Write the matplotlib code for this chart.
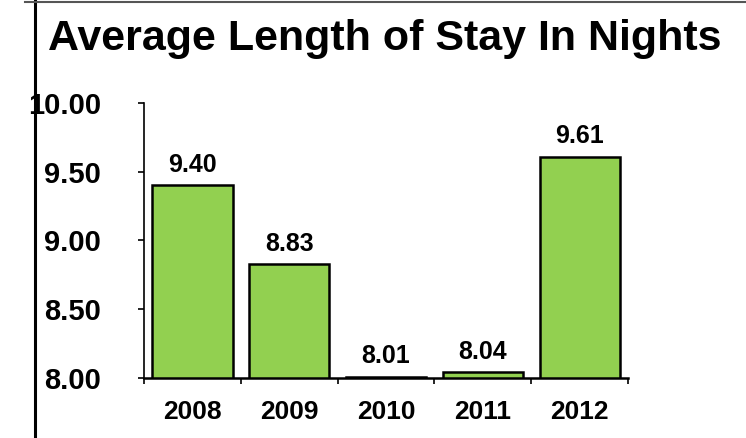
import matplotlib.pyplot as plt
from matplotlib.lines import Line2D

# data
years = ['2008', '2009', '2010', '2011', '2012']
nights = [9.40, 8.83, 8.01, 8.04, 9.61]
yticks = [8.00, 8.50, 9.00, 9.50, 10.00]

plt.rcParams['font.family'] = ['Liberation Sans', 'DejaVu Sans']
plt.rcParams['font.weight'] = 'bold'

fig = plt.figure(figsize=(7.46, 4.38), dpi=100)
ax = fig.add_axes([0.193, 0.137, 0.649, 0.628])

x = range(len(years))
bars = ax.bar(x, nights, width=0.83, bottom=0, color='#92d050',
              edgecolor='black', linewidth=1.8)
ax.set_ylim(8, 10)
ax.set_xlim(-0.5, len(years) - 0.5)

for xi, v in zip(x, nights):
    ax.annotate(f'{v:.2f}', (xi, v), xytext=(0, 6), textcoords='offset points',
                ha='center', va='bottom', fontsize=18, fontweight='bold')

ax.set_yticks(yticks)
ax.set_yticklabels([f'{t:.2f}' for t in yticks], fontsize=21, fontweight='bold')
ax.tick_params(axis='y', direction='out', length=4, width=1.2, pad=27)

# category labels between boundary ticks
ax.set_xticks([i + 0.5 for i in range(-1, len(years))])
ax.set_xticklabels([])
ax.tick_params(axis='x', direction='out', length=4, width=1.2)
for xi, yr in zip(x, years):
    ax.text(xi, -0.08, yr, transform=ax.get_xaxis_transform(), ha='center', va='top',
            fontsize=19, fontweight='bold')

for s in ['top', 'right']:
    ax.spines[s].set_visible(False)
ax.spines['left'].set_linewidth(1.2)
ax.spines['bottom'].set_linewidth(1.8)

fig.text(0.064, 0.91, 'Average Length of Stay In Nights', ha='left', va='center',
         fontsize=31, fontweight='bold')

# frame lines at the left and top
fig.add_artist(Line2D([35 / 746, 35 / 746], [0, 1], color='black', linewidth=2.2,
                      transform=fig.transFigure))
fig.add_artist(Line2D([25 / 746, 1], [0.995, 0.995], color='#555555', linewidth=1.5,
                      transform=fig.transFigure))

fig.savefig('out.png', dpi=100)
